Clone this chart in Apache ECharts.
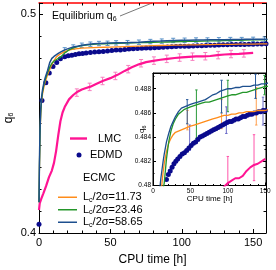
<!DOCTYPE html>
<html><head><meta charset="utf-8">
<script src="https://cdn.jsdelivr.net/npm/echarts@6/dist/echarts.min.js"></script>
<style>html,body{margin:0;padding:0;background:#fff}#c{width:276px;height:270px}</style>
</head><body><div id="c"></div>
<script>
// ---------------- data ----------------
const lmcTime = [0,0.5,1.5,3,5,7,9,10.5,12,13.5,15,16.5,18,21,24,27,30,33,36,40,45,50,55,60,65,70,75,80,85,90,95,100,105,110,115,120,125,130,135,140,145,150];
const lmcQ6   = [0.4105,0.4135,0.4155,0.418,0.4215,0.4255,0.4285,0.432,0.4375,0.4447,0.451,0.455,0.4575,0.461,0.463,0.4645,0.4655,0.4662,0.4668,0.468,0.4695,0.4707,0.4722,0.474,0.4757,0.477,0.478,0.4786,0.4791,0.4795,0.4799,0.4802,0.4804,0.4806,0.4806,0.4808,0.4812,0.4815,0.4817,0.4818,0.482,0.4822];

const edmdTime = [0,2.1,4.8,7.2,9.8,12.4,15,18,20.5,23,25.5,28,30.5,33,36,39,42,45,48,51,54,57,60,63,66,69,72,75,78,81,84,87,90,93,96,99,102,105,108,111,114,117,120,123,126,129,132,135,138,141,144,147,150,153,156,159];
const edmdQ6   = [0.404,0.4605,0.4686,0.4730,0.4760,0.4778,0.4795,0.4805,0.4809,0.4812,0.4815,0.4818,0.4820,0.4822,0.4824,0.4826,0.4827,0.4829,0.4831,0.4833,0.4835,0.4836,0.4838,0.4840,0.4841,0.4842,0.4843,0.4844,0.4845,0.4846,0.4847,0.4848,0.4849,0.4850,0.4851,0.4852,0.4853,0.4853,0.4854,0.4855,0.4855,0.4856,0.4857,0.4857,0.4858,0.4859,0.4859,0.4860,0.4860,0.4861,0.4861,0.4862,0.4862,0.4863,0.4863,0.4864];

const ecmcTime = [0,0.3,0.7,1.2,1.8,2.5,3.5,4.5,6,7.5,9,10.5,12,13.5,15,18,21,24,27,30,34,38,42,46,50,55,60,65,70,75,80,85,90,95,100,105,110,115,120,125,130,135,140,145,150,155,160];
const ecmc11Q6 = [0.414,0.429,0.444,0.454,0.4600,0.4635,0.4668,0.4693,0.4722,0.4747,0.4768,0.4787,0.4802,0.4811,0.4818,0.4828,0.4835,0.4839,0.4842,0.4844,0.4845,0.4846,0.4847,0.4848,0.4849,0.4850,0.4851,0.4852,0.4853,0.4854,0.4855,0.4856,0.4857,0.4858,0.4858,0.4859,0.4859,0.4860,0.4860,0.4861,0.4861,0.4861,0.4862,0.4862,0.4862,0.4863,0.4863];
const ecmc23Q6 = [0.414,0.430,0.445,0.455,0.4610,0.4645,0.4678,0.4703,0.4733,0.4757,0.4775,0.4785,0.4791,0.4797,0.4802,0.4822,0.4836,0.4845,0.4851,0.4855,0.4859,0.4861,0.4863,0.4864,0.4865,0.4866,0.4867,0.4868,0.4869,0.4869,0.4870,0.4871,0.4872,0.4873,0.4874,0.4875,0.4875,0.4876,0.4877,0.4877,0.4878,0.4879,0.4880,0.4881,0.4882,0.4882,0.4883];
const ecmc58Q6 = [0.414,0.432,0.447,0.4565,0.4620,0.4655,0.4688,0.4712,0.4742,0.4778,0.4797,0.4806,0.4813,0.4820,0.4826,0.4836,0.4843,0.4849,0.4853,0.4857,0.4861,0.4864,0.4865,0.4866,0.4867,0.4868,0.4869,0.4870,0.4871,0.4873,0.4875,0.4876,0.4878,0.4879,0.4880,0.4880,0.4881,0.4881,0.4882,0.4882,0.4882,0.4883,0.4883,0.4884,0.4884,0.4885,0.4885];

// error bars: [time, q6, half-width]
const lmcErrMain = [[26.5,0.4641,0.0017],[35.5,0.4667,0.0017],[44.5,0.4694,0.0017],[53.5,0.4717,0.0017],[62.5,0.4748,0.0017],[71.5,0.4775,0.0017],[80.5,0.4787,0.0017],[89.5,0.4795,0.0017],[98.5,0.4801,0.0017],[107.5,0.4805,0.0017],[116.5,0.4807,0.0017],[125.5,0.4812,0.0017],[134.5,0.4817,0.0017],[143.5,0.4820,0.0017]];
const ecmcErrMain = [[18,0.4836,0.001],[24,0.4849,0.001],[30,0.4857,0.001],[36,0.4862,0.001],[42,0.4865,0.001],[48,0.4866,0.001],[54,0.4868,0.001],[62,0.4869,0.001],[70,0.4871,0.001],[78,0.4874,0.001],[86,0.4876,0.001],[94,0.4879,0.001],[102,0.4880,0.001],[110,0.4881,0.001],[118,0.4881,0.001],[126,0.4882,0.001],[134,0.4883,0.001],[142,0.4883,0.001],[150,0.4884,0.001],[158,0.4885,0.001]];
const ecmc11ErrInset = [[46,0.4854,0.0008],[91.6,0.4859,0.0012],[138,0.48655,0.00155]];
const ecmc23ErrInset = [[58,0.4859,0.002],[100,0.4874,0.0013],[149,0.4883,0.0008]];
const ecmc58ErrInset = [[45.7,0.4861,0.001],[91.6,0.48735,0.00135],[137,0.4882,0.001]];
const edmdErrInset = [[49,0.48395,0.00105],[98,0.4854,0.0011],[147,0.48615,0.00115]];
const lmcErrInset = [[100,0.4812,0.0012],[135,0.4823,0.0019]];
const equilibriumQ6 = 0.4863;

const ecmcNames = ['Lc/2σ=11.73','Lc/2σ=23.46','Lc/2σ=58.65'];
// ---------------------------------------

const FONT = '"Liberation Sans", Arial, sans-serif';
const C = {lmc:'#ff1493', edmd:'#0a0a8c', e11:'#ff8c1a', e23:'#24962a', e58:'#1d4f8e'};
const zip = (a,b)=>a.map((v,i)=>[v,b[i]]);

function errRender(capHalf){
  return function(params, api){
    const x=api.value(0), y=api.value(1), e=api.value(2);
    const lo=api.coord([x,y-e]), hi=api.coord([x,y+e]);
    const style={stroke: api.visual('color'), lineWidth:1};
    return {type:'group', children:[
      {type:'line', shape:{x1:lo[0],y1:lo[1],x2:hi[0],y2:hi[1]}, style},
      {type:'line', shape:{x1:lo[0]-capHalf,y1:lo[1],x2:lo[0]+capHalf,y2:lo[1]}, style},
      {type:'line', shape:{x1:hi[0]-capHalf,y1:hi[1],x2:hi[0]+capHalf,y2:hi[1]}, style}
    ]};
  };
}
function errSeries(data, color, xi, yi, cap){
  return {type:'custom', xAxisIndex:xi, yAxisIndex:yi, data, renderItem:errRender(cap),
    itemStyle:{color}, encode:{x:0,y:1}, silent:true, z:3, clip:true};
}
function lineS(name, t, q, color, w, xi, yi){
  return {type:'line', name, xAxisIndex:xi, yAxisIndex:yi, data:zip(t,q), symbol:'none', showSymbol:false,
    lineStyle:{color, width:w}, itemStyle:{color}, clip:true, z:4, animation:false};
}
function dotS(xi, yi, size){
  return {type:'scatter', name:'EDMD', xAxisIndex:xi, yAxisIndex:yi, data:zip(edmdTime, edmdQ6),
    symbol:'circle', symbolSize:size, itemStyle:{color:C.edmd, opacity:1}, clip:true, z:3, animation:false};
}
const tick = (len)=>({show:true, inside:true, length:len, lineStyle:{color:'#000', width:1}});
const minor = (n,len)=>({show:true, splitNumber:n, length:len, lineStyle:{color:'#000', width:1}});
const axLine = (col)=>({show:true, onZero:false, lineStyle:{color:col||'#000', width:1}});
const subRich = {sub:{fontSize:7, fontFamily:FONT, verticalAlign:'bottom', padding:[5,0,0,0]}};

const option = {
  animation:false,
  backgroundColor:'#fff',
  textStyle:{fontFamily:FONT},
  grid:[
    {left:39, top:3, width:227, height:230, show:false, containLabel:false, outerBoundsMode:'none'},
    {left:153, top:73, width:113, height:112.5, show:true, backgroundColor:'#fff', borderColor:'#000', borderWidth:1, containLabel:false, outerBoundsMode:'none'}
  ],
  xAxis:[
    {gridIndex:0, type:'value', min:0, max:159, interval:50, position:'bottom',
     axisLine:axLine(), axisTick:tick(4), minorTick:minor(5,2.5), splitLine:{show:false}, minorSplitLine:{show:false},
     axisLabel:{fontSize:11, color:'#000', margin:4, fontFamily:FONT, showMaxLabel:false},
     name:'CPU time [h]', nameLocation:'middle', nameGap:21, nameMoveOverlap:false, nameTextStyle:{fontSize:12, color:'#000', fontFamily:FONT}},
    {gridIndex:0, type:'value', min:0, max:159, interval:50, position:'top',
     axisLine:{show:true, onZero:false, lineStyle:{color:'#ff0000', width:1.5}}, axisTick:tick(4), minorTick:minor(5,2.5),
     splitLine:{show:false}, axisLabel:{show:false}},
    {gridIndex:1, type:'value', min:0, max:151, interval:50, position:'bottom',
     axisLine:axLine(), axisTick:tick(3), minorTick:minor(5,1.5), splitLine:{show:false},
     axisLabel:{fontSize:6.5, color:'#000', margin:2, fontFamily:FONT, showMaxLabel:false},
     name:'CPU time [h]', nameLocation:'middle', nameGap:9, nameMoveOverlap:false, nameTextStyle:{fontSize:8, color:'#000', fontFamily:FONT}},
    {gridIndex:1, type:'value', min:0, max:151, interval:50, position:'top',
     axisLine:axLine(), axisTick:tick(3), minorTick:minor(5,1.5), splitLine:{show:false}, axisLabel:{show:false}}
  ],
  yAxis:[
    {gridIndex:0, type:'value', min:0.4, max:0.505, interval:0.1, position:'left',
     axisLine:axLine(), axisTick:tick(4), minorTick:minor(10,2.5), splitLine:{show:false},
     axisLabel:{fontSize:11, color:'#000', margin:3, fontFamily:FONT, showMaxLabel:false, formatter:v=>v.toFixed(1)},
     name:'q{sub|6}', nameLocation:'middle', nameGap:24, nameMoveOverlap:false,
     nameTextStyle:{fontSize:12, color:'#000', fontFamily:FONT, rich:subRich}},
    {gridIndex:0, type:'value', min:0.4, max:0.505, interval:0.1, position:'right',
     axisLine:axLine(), axisTick:tick(4), minorTick:minor(10,2.5), splitLine:{show:false}, axisLabel:{show:false}},
    {gridIndex:1, type:'value', min:0.48, max:0.4893, interval:0.002, position:'left',
     axisLine:axLine(), axisTick:tick(3), minorTick:minor(2,1.5), splitLine:{show:false},
     axisLabel:{fontSize:6.5, color:'#000', margin:2, fontFamily:FONT, showMaxLabel:false, formatter:v=>String(+v.toFixed(3))},
     name:'q{sub|6}', nameLocation:'middle', nameGap:6, nameMoveOverlap:false,
     nameTextStyle:{fontSize:8, color:'#000', fontFamily:FONT, rich:{sub:{fontSize:5.5, fontFamily:FONT, verticalAlign:'bottom', padding:[4,0,0,0]}}}},
    {gridIndex:1, type:'value', min:0.48, max:0.4893, interval:0.002, position:'right',
     axisLine:axLine(), axisTick:tick(3), minorTick:minor(2,1.5), splitLine:{show:false}, axisLabel:{show:false}}
  ],
  legend:[
    {data:[{name:'LMC', icon:'rect'}], left:65, top:128, itemWidth:17, itemHeight:2.4, selectedMode:false,
     textStyle:{fontSize:11, color:'#000', fontFamily:FONT, padding:[0,0,0,6]}},
    {data:[{name:'EDMD', icon:'circle'}], left:71.5, top:144.5, itemWidth:5, itemHeight:5, selectedMode:false,
     textStyle:{fontSize:11, color:'#000', fontFamily:FONT, padding:[0,0,0,3.5]}},
    {data:ecmcNames.map(n=>({name:n, icon:'rect'})), left:53, top:186, orient:'vertical', itemWidth:19, itemHeight:1.5, itemGap:0, selectedMode:false,
     formatter:n=>n.replace('Lc','L{sub|c}'),
     textStyle:{fontSize:11, color:'#000', fontFamily:FONT, lineHeight:12.5, padding:[0,0,0,1], rich:subRich}}
  ],
  graphic:[
    {type:'text', left:83, top:172, style:{text:'ECMC', fontSize:11, fill:'#000', fontFamily:FONT}},
    {type:'text', left:52, top:11, style:{text:'Equilibrium q{sub|6}', fontSize:10.5, fill:'#000', fontFamily:FONT, rich:subRich}},
    {type:'line', shape:{x1:120, y1:16, x2:152, y2:3}, style:{stroke:'#555', lineWidth:0.8}}
  ],
  series:[
    // main panel
    errSeries(lmcErrMain, '#f77fbf', 0, 0, 2),
    errSeries(ecmcErrMain, '#5b93c9', 0, 0, 2),
    dotS(0, 0, 5),
    lineS('LMC', lmcTime, lmcQ6, C.lmc, 2.2, 0, 0),
    lineS(ecmcNames[0], ecmcTime, ecmc11Q6, C.e11, 1.3, 0, 0),
    lineS(ecmcNames[1], ecmcTime, ecmc23Q6, C.e23, 1.3, 0, 0),
    lineS(ecmcNames[2], ecmcTime, ecmc58Q6, C.e58, 1.5, 0, 0),
    // inset
    dotS(2, 2, 5),
    lineS('LMC', lmcTime, lmcQ6, C.lmc, 2, 2, 2),
    lineS(ecmcNames[0], ecmcTime, ecmc11Q6, C.e11, 1.3, 2, 2),
    lineS(ecmcNames[1], ecmcTime, ecmc23Q6, C.e23, 1.3, 2, 2),
    lineS(ecmcNames[2], ecmcTime, ecmc58Q6, C.e58, 1.3, 2, 2),
    errSeries(ecmc11ErrInset, '#ffa050', 2, 2, 1.2),
    errSeries(ecmc23ErrInset, '#2a9a3a', 2, 2, 1.2),
    errSeries(ecmc58ErrInset, '#2a5a9a', 2, 2, 1.2),
    errSeries(edmdErrInset, '#6a6ac8', 2, 2, 1.2),
    errSeries(lmcErrInset, '#ff55aa', 2, 2, 1.2),
    {type:'line', xAxisIndex:2, yAxisIndex:2, data:[], silent:true,
     markLine:{silent:true, symbol:'none', label:{show:false},
       lineStyle:{color:'#7070a8', type:'dotted', width:1.5}, data:[{yAxis:equilibriumQ6}]}}
  ]
};
const chart = echarts.init(document.getElementById('c'), null, {renderer:'canvas'});
chart.setOption(option);
</script></body></html>
